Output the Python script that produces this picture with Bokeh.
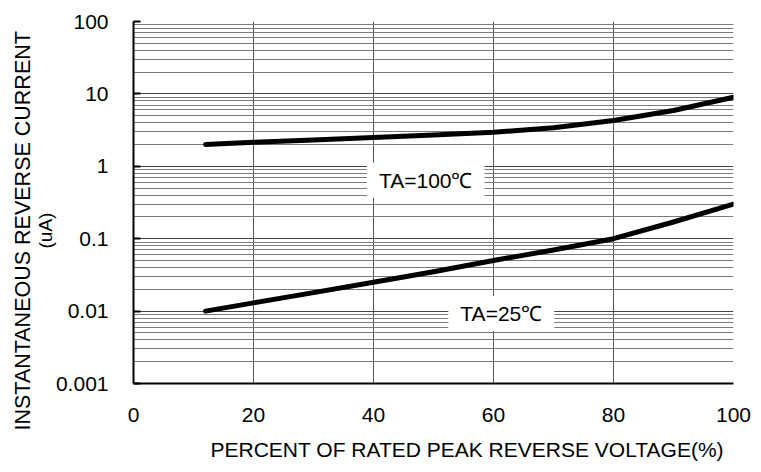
from bokeh.plotting import figure
from bokeh.models import Range1d, FixedTicker, Label, Title
from bokeh.embed import file_html
from bokeh.resources import INLINE

# ---- data ----
pct = [12, 20, 30, 40, 50, 60, 70, 80, 90, 100]
ir_100c = [2.0, 2.15, 2.3, 2.5, 2.7, 2.95, 3.4, 4.3, 5.9, 9.0]
ir_25c = [0.01, 0.013, 0.018, 0.025, 0.035, 0.05, 0.07, 0.1, 0.17, 0.3]

x_ticks = [0, 20, 40, 60, 80, 100]
y_ticks = [0.001, 0.01, 0.1, 1, 10, 100]
y_tick_labels = ["0.001", "0.01", "0.1", "1", "10", "100"]

label_100 = "TA=100\u2103"
label_25 = "TA=25\u2103"
label_100_pos = (48.7, 0.64)
label_25_pos = (61.3, 0.0093)

x_title = "PERCENT OF RATED PEAK REVERSE VOLTAGE(%)"
y_title = "INSTANTANEOUS  REVERSE CURRENT"
y_unit = "(uA)"

FONT = "Liberation Sans"

p = figure(frame_width=600, frame_height=362,
           min_border_left=133, min_border_right=20,
           min_border_top=21, min_border_bottom=80,
           x_range=Range1d(0, 100), y_range=Range1d(0.001, 100),
           y_axis_type="log", output_backend="svg", toolbar_location=None,
           background_fill_color="white", border_fill_color="white")
p.outline_line_color = None

minor = []
for d in y_ticks[:-1]:
    for k in range(2, 10):
        minor.append(d * k)

p.xaxis.ticker = FixedTicker(ticks=x_ticks)
p.yaxis.ticker = FixedTicker(ticks=y_ticks, minor_ticks=minor)
p.yaxis.major_label_overrides = {t: s for t, s in zip(y_ticks, y_tick_labels)}

for ax in (p.xaxis, p.yaxis):
    ax.axis_line_color = "black"
    ax.axis_line_width = 2
    ax.major_label_text_font = FONT
    ax.major_label_text_color = "black"
    ax.minor_tick_line_color = None

p.xaxis.major_label_text_font_size = "21px"
p.xaxis.major_label_standoff = 18
p.yaxis.major_label_text_font_size = "21px"
p.yaxis.major_label_standoff = 21

p.xaxis.major_tick_line_color = None
p.yaxis.major_tick_in = 7
p.yaxis.major_tick_out = 0
p.yaxis.major_tick_line_color = "black"
p.yaxis.major_tick_line_width = 2

p.xgrid.grid_line_color = "#555555"
p.xgrid.grid_line_width = 1
p.ygrid.grid_line_color = "#444444"
p.ygrid.grid_line_width = 1
p.ygrid.minor_grid_line_color = "#7a7a7a"
p.ygrid.minor_grid_line_width = 1

p.line(pct, ir_100c, line_width=5, line_color="black", line_cap="round", line_join="round")
p.line(pct, ir_25c, line_width=5, line_color="black", line_cap="round", line_join="round")

for txt, (lx, ly) in ((label_100, label_100_pos), (label_25, label_25_pos)):
    p.add_layout(Label(x=lx, y=ly, text=txt, text_align="center", text_baseline="middle",
                       text_font=FONT, text_font_size="21px", text_color="black",
                       background_fill_color="white",
                       padding=dict(left=12, right=12, top=6, bottom=6)))

# axis titles as side-panel titles (placed outside the frame)
p.add_layout(Title(text=x_title, align="left", offset=77, standoff=22,
                   text_font=FONT, text_font_size="21px", text_font_style="normal",
                   text_color="black"), "below")
p.add_layout(Title(text=y_unit, align="left", offset=135, standoff=-6,
                   text_font=FONT, text_font_size="19px", text_font_style="normal",
                   text_color="black"), "left")
p.add_layout(Title(text=y_title, align="left", offset=-47, standoff=2,
                   text_font=FONT, text_font_size="21.5px", text_font_style="normal",
                   text_color="black"), "left")

open("out.html", "w").write(file_html(p, INLINE))
